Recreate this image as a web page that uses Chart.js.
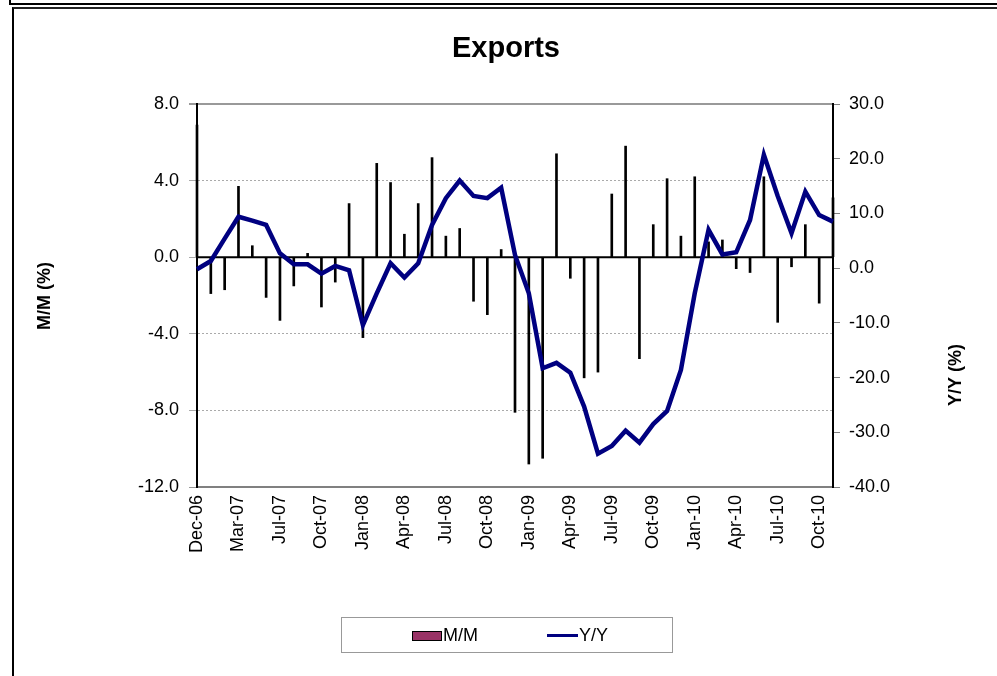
<!DOCTYPE html>
<html>
<head>
<meta charset="utf-8">
<script src="https://cdn.jsdelivr.net/npm/chart.js@4"></script>
<style>
  html, body { margin: 0; padding: 0; background: #fff; overflow: hidden; }
  #wrap { position: relative; width: 997px; height: 676px; }
  .frameA { position: absolute; left: 9px; top: -10px; width: 2000px; height: 11px; border: 2px solid #000; }
  .frameB { position: absolute; left: 12px; top: 7px; width: 2000px; height: 2000px; border-left: 2px solid #000; border-top: 2px solid #222; }
  canvas { position: absolute; left: 0; top: 0; }
  .legend { position: absolute; left: 341px; top: 617px; width: 330px; height: 34px; border: 1px solid #999;
            font: 18px "Liberation Sans", Arial, sans-serif; color: #000; }
  .legend span { position: absolute; top: 7px; }
  .sw { position: absolute; left: 70px; top: 13px; width: 28px; height: 8px; background: #993366; border: 1px solid #000; }
  .ln { position: absolute; left: 205px; top: 16px; width: 31px; height: 3px; background: #000080; }
</style>
</head>
<body>
<div id="wrap">
  <div class="frameA"></div>
  <div class="frameB"></div>
  <canvas id="chart" width="997" height="676"></canvas>
  <div class="legend">
    <div class="sw"></div><span style="left:101px">M/M</span>
    <div class="ln"></div><span style="left:237px">Y/Y</span>
  </div>
</div>
<script>
// mois (Dec-06 .. Oct-10)
const months = ['Dec-06','Jan-07','Feb-07','Mar-07','Apr-07','May-07','Jun-07','Jul-07','Aug-07','Sep-07','Oct-07','Nov-07',
  'Dec-07','Jan-08','Feb-08','Mar-08','Apr-08','May-08','Jun-08','Jul-08','Aug-08','Sep-08','Oct-08','Nov-08',
  'Dec-08','Jan-09','Feb-09','Mar-09','Apr-09','May-09','Jun-09','Jul-09','Aug-09','Sep-09','Oct-09','Nov-09',
  'Dec-09','Jan-10','Feb-10','Mar-10','Apr-10','May-10','Jun-10','Jul-10','Aug-10','Sep-10','Oct-10'];

// labels shown on the axis, one every 3 months
const tickLabels = ['Dec-06','Mar-07','Jul-07','Oct-07','Jan-08','Apr-08','Jul-08','Oct-08',
  'Jan-09','Apr-09','Jul-09','Oct-09','Jan-10','Apr-10','Jul-10','Oct-10'];

const mm = [6.9, -1.9, -1.7, 3.7, 0.6, -2.1, -3.3, -1.5, 0.2, -2.6, -1.3, 2.8, -4.2, 4.9, 3.9, 1.2,
  2.8, 5.2, 1.1, 1.5, -2.3, -3.0, 0.4, -8.1, -10.8, -10.5, 5.4, -1.1, -6.3, -6.0, 3.3, 5.8,
  -5.3, 1.7, 4.1, 1.1, 4.2, 0.8, 0.9, -0.6, -0.8, 4.2, -3.4, -0.5, 1.7, -2.4, 3.1];

const yy = [-0.2, 1.3, 5.4, 9.4, 8.7, 7.9, 2.7, 0.7, 0.7, -1.0, 0.4, -0.4, -10.4, -4.6, 0.9, -1.7,
  0.9, 7.9, 12.8, 16.0, 13.2, 12.8, 14.7, 2.4, -4.6, -18.3, -17.3, -19.1, -25.3, -33.9, -32.5, -29.7,
  -31.9, -28.5, -26.1, -18.6, -4.6, 7.0, 2.5, 2.9, 8.8, 20.7, 13.2, 6.4, 14.0, 9.7, 8.5];

const leftTicks = [-12, 8, 4];   // min, max, step
const rightTicks = [-40, 30, 10];

const FONT = '"Liberation Sans", Arial, sans-serif';

// ligne du zero + titres
const decor = {
    id: 'decor',
    beforeDatasetsDraw(chart) {
        const c = chart.ctx, a = chart.chartArea;
        const y0 = chart.scales.y.getPixelForValue(0);
        c.save();
        c.strokeStyle = '#000';
        c.lineWidth = 2;
        c.beginPath();
        c.moveTo(a.left, y0);
        c.lineTo(a.right, y0);
        c.stroke();
        c.restore();
    },
    afterDraw(chart) {
        const c = chart.ctx;
        c.save();
        c.fillStyle = '#000';
        c.textAlign = 'center';
        c.textBaseline = 'middle';
        c.font = 'bold 29px ' + FONT;
        c.fillText('Exports', 506, 49);
        c.font = 'bold 18px ' + FONT;
        c.translate(45, 296);
        c.rotate(-Math.PI / 2);
        c.fillText('M/M (%)', 0, 0);
        c.restore();
        c.save();
        c.fillStyle = '#000';
        c.textAlign = 'center';
        c.textBaseline = 'middle';
        c.font = 'bold 18px ' + FONT;
        c.translate(956, 375);
        c.rotate(-Math.PI / 2);
        c.fillText('Y/Y (%)', 0, 0);
        c.restore();
    }
};

new Chart(document.getElementById('chart'), {
    data: {
        labels: months,
        datasets: [{
            type: 'line',
            label: 'Y/Y',
            data: yy,
            yAxisID: 'y1',
            borderColor: '#000080',
            borderWidth: 4.5,
            pointRadius: 0,
            tension: 0,
            order: 0
        }, {
            type: 'bar',
            label: 'M/M',
            data: mm,
            yAxisID: 'y',
            backgroundColor: '#000',
            borderWidth: 0,
            barThickness: 2,
            clip: false,
            order: 1
        }]
    },
    options: {
        responsive: false,
        animation: false,
        devicePixelRatio: 1,
        layout: { padding: { top: 104, left: 0, right: 0, bottom: 0 } },
        plugins: { legend: { display: false }, tooltip: { enabled: false } },
        scales: {
            x: {
                offset: false,
                grid: { display: false, drawTicks: false, offset: false },
                border: { display: true, color: '#808080', width: 2 },
                ticks: {
                    autoSkip: false,
                    maxRotation: 90,
                    minRotation: 90,
                    padding: 8,
                    color: '#000',
                    font: { size: 18, family: FONT },
                    callback: (v, i) => i % 3 === 0 ? tickLabels[i / 3] : ''
                },
                afterFit: s => { s.height = 676 - 487; }
            },
            y: {
                position: 'left',
                min: leftTicks[0],
                max: leftTicks[1],
                grid: {
                    color: ctx => (ctx.tick && (ctx.tick.value === 8 || ctx.tick.value === -12)) ? '#999' : '#aaa',
                    lineWidth: ctx => (ctx.tick && (ctx.tick.value === 8)) ? 2 : 1,
                    tickLength: 8
                },
                border: {
                    color: '#000', width: 2,
                    dash: ctx => (ctx.tick && (ctx.tick.value === 8 || ctx.tick.value === -12)) ? [] : [2, 2]
                },
                ticks: {
                    stepSize: leftTicks[2],
                    padding: 10,
                    color: '#000',
                    font: { size: 18, family: FONT },
                    callback: v => v.toFixed(1)
                },
                afterFit: s => { s.width = 197; }
            },
            y1: {
                position: 'right',
                min: rightTicks[0],
                max: rightTicks[1],
                grid: { drawOnChartArea: false, color: '#808080', tickLength: 7 },
                border: { color: '#000', width: 2 },
                ticks: {
                    stepSize: rightTicks[2],
                    padding: 9,
                    color: '#000',
                    font: { size: 18, family: FONT },
                    callback: v => v.toFixed(1)
                },
                afterFit: s => { s.width = 997 - 833; }
            }
        }
    },
    plugins: [decor]
});
</script>
</body>
</html>
